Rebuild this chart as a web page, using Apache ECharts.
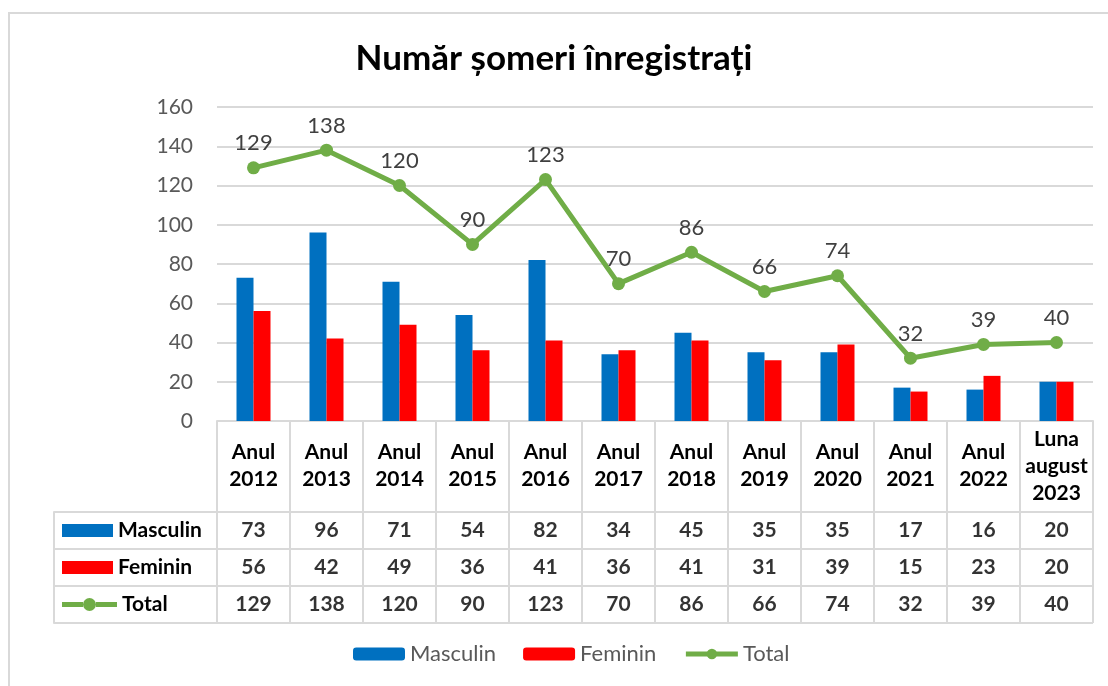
<!DOCTYPE html>
<html>
<head>
<meta charset="utf-8">
<script src="https://cdn.jsdelivr.net/npm/echarts@6/dist/echarts.min.js"></script>
<style>
  html, body { margin: 0; padding: 0; background: #fff; }
  #chart { width: 1108px; height: 686px; }
</style>
</head>
<body>
<div id="chart"></div>
<script>
var categories = ['Anul\n2012', 'Anul\n2013', 'Anul\n2014', 'Anul\n2015', 'Anul\n2016', 'Anul\n2017',
                  'Anul\n2018', 'Anul\n2019', 'Anul\n2020', 'Anul\n2021', 'Anul\n2022', 'Luna\naugust\n2023'];
var masculin = [73, 96, 71, 54, 82, 34, 45, 35, 35, 17, 16, 20];
var feminin = [56, 42, 49, 36, 41, 36, 41, 31, 39, 15, 23, 20];
var total = [129, 138, 120, 90, 123, 70, 86, 66, 74, 32, 39, 40];
var rowNames = ['Masculin', 'Feminin', 'Total'];

var FONT = 'Lato';
var gridLine = '#d9d9d9';

// cells of the data table under the chart
var tableRows = [masculin, feminin, total];
var tableCells = [];
tableRows.forEach(function (row, r) {
    row.forEach(function (v, c) {
        tableCells.push([c, rowNames[r], v]);
    });
});

var option = {
    textStyle: { fontFamily: FONT },
    title: {
        text: 'Număr șomeri înregistrați',
        left: 'center',
        top: 36,
        textStyle: { fontFamily: FONT, fontSize: 35, fontWeight: 'bold', color: '#000' }
    },
    legend: {
        data: ['Masculin', 'Feminin', 'Total'],
        bottom: 16,
        left: 348,
        itemWidth: 52,
        itemHeight: 13,
        itemGap: 27,
        lineStyle: { width: 5 },
        textStyle: { fontFamily: FONT, fontSize: 22, color: '#595959' }
    },
    graphic: [{
        type: 'rect',
        shape: { x: 9, y: 13, width: 1110, height: 690 },
        style: { fill: 'none', stroke: gridLine, lineWidth: 2 },
        silent: true
    }],
    grid: [
        { left: 217, right: 15, top: 107, height: 314 },
        { left: 217, right: 15, top: 512, height: 111 }
    ],
    xAxis: [
        {
            type: 'category',
            gridIndex: 0,
            data: categories,
            axisLine: { lineStyle: { color: gridLine, width: 2 } },
            axisTick: { show: true, interval: 0, length: 202, lineStyle: { color: gridLine, width: 2 } },
            axisLabel: {
                interval: 0,
                margin: 45,
                verticalAlign: 'middle',
                fontFamily: FONT,
                fontSize: 21,
                fontWeight: 'bold',
                color: '#000',
                lineHeight: 27
            }
        },
        {
            type: 'category',
            gridIndex: 1,
            data: categories,
            axisLine: { show: false },
            axisTick: { show: false },
            axisLabel: { show: false }
        }
    ],
    yAxis: [
        {
            type: 'value',
            gridIndex: 0,
            min: 0,
            max: 160,
            interval: 20,
            axisLine: { show: false },
            axisTick: { show: false },
            splitLine: { lineStyle: { color: gridLine, width: 2 } },
            axisLabel: { fontFamily: FONT, fontSize: 21, color: '#595959', margin: 24 }
        },
        {
            type: 'category',
            gridIndex: 1,
            data: rowNames,
            inverse: true,
            axisLine: { show: false },
            axisTick: { show: true, interval: 0, length: 163, lineStyle: { color: gridLine, width: 2 } },
            splitLine: { show: true, interval: 0, lineStyle: { color: gridLine, width: 2 } },
            axisLabel: {
                interval: 0,
                align: 'left',
                margin: 155,
                formatter: function (name) {
                    if (name === 'Masculin') return '{m|}{t|Masculin}';
                    if (name === 'Feminin') return '{f|}{t|Feminin}';
                    return '{l|}{d|}{l|}{t|Total}';
                },
                rich: {
                    m: { backgroundColor: '#0070c0', width: 51, height: 13 },
                    f: { backgroundColor: '#ff0000', width: 51, height: 13 },
                    l: { backgroundColor: '#70ad47', width: 21, height: 5 },
                    d: { backgroundColor: '#70ad47', width: 13, height: 13, borderRadius: 7 },
                    t: { fontFamily: FONT, fontSize: 21, fontWeight: 'bold', color: '#000', padding: [0, 0, 0, 5] }
                }
            }
        },
        {
            type: 'category',
            gridIndex: 1,
            data: rowNames,
            inverse: true,
            position: 'left',
            offset: 163,
            axisLine: { show: true, lineStyle: { color: gridLine, width: 2 } },
            axisTick: { show: false },
            axisLabel: { show: false }
        }
    ],
    series: [
        {
            name: 'Masculin',
            type: 'bar',
            xAxisIndex: 0,
            yAxisIndex: 0,
            data: masculin,
            barWidth: 17,
            barGap: '0%',
            itemStyle: { color: '#0070c0' }
        },
        {
            name: 'Feminin',
            type: 'bar',
            xAxisIndex: 0,
            yAxisIndex: 0,
            data: feminin,
            barWidth: 17,
            barGap: '0%',
            itemStyle: { color: '#ff0000' }
        },
        {
            name: 'Total',
            type: 'line',
            xAxisIndex: 0,
            yAxisIndex: 0,
            data: total,
            symbol: 'circle',
            symbolSize: 13,
            lineStyle: { color: '#70ad47', width: 5 },
            itemStyle: { color: '#70ad47' },
            label: {
                show: true,
                position: 'top',
                distance: 7,
                fontFamily: FONT,
                fontSize: 22,
                color: '#404040'
            }
        },
        {
            name: 'tabel',
            type: 'scatter',
            xAxisIndex: 1,
            yAxisIndex: 1,
            data: tableCells,
            symbol: 'rect',
            symbolSize: 1,
            itemStyle: { color: 'rgba(0,0,0,0)' },
            silent: true,
            label: {
                show: true,
                position: 'inside',
                formatter: function (p) { return p.value[2]; },
                fontFamily: FONT,
                fontSize: 21,
                fontWeight: 'bold',
                color: '#000'
            }
        }
    ]
};

var myChart = echarts.init(document.getElementById('chart'));
myChart.setOption(option);
</script>
</body>
</html>
